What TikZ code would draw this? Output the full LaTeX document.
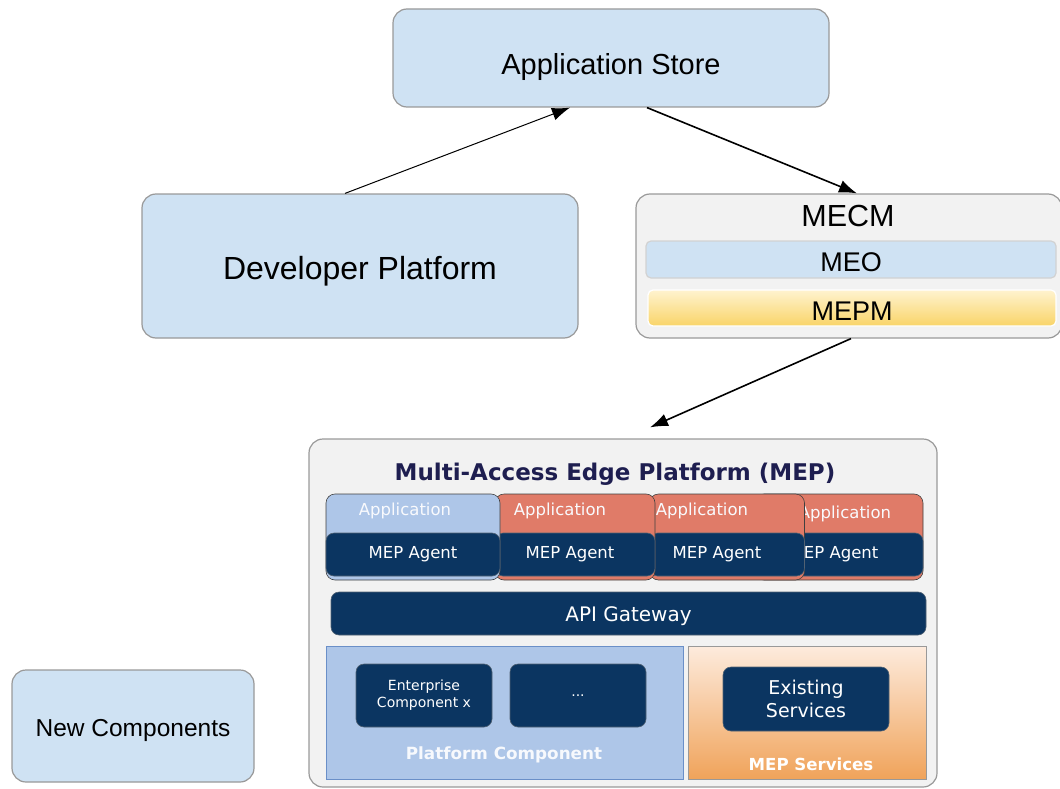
\documentclass[tikz,border=0pt]{standalone}
\usepackage{fontspec}
\setmainfont{Liberation Sans}
\newfontfamily\mepfont{DejaVu Sans}
\usetikzlibrary{arrows.meta,calc}

\definecolor{paleblue}{HTML}{CFE2F3}
\definecolor{edgegray}{HTML}{999999}
\definecolor{panelgray}{HTML}{F2F2F2}
\definecolor{mepnavy}{HTML}{0B3561}
\definecolor{appblue}{HTML}{AEC6E8}
\definecolor{appsalmon}{HTML}{E07B68}
\definecolor{pcedge}{HTML}{6A8FC8}
\definecolor{titlenavy}{HTML}{1E1E50}
\definecolor{mepmtop}{HTML}{FFF3CF}
\definecolor{mepmbottom}{HTML}{F9D468}
\definecolor{svctop}{HTML}{FDEBDD}
\definecolor{svcbottom}{HTML}{F0A35A}

\tikzset{
  bigbox/.style={rectangle, draw=edgegray, line width=1.2pt, rounded corners=14pt, fill=paleblue, text depth=0pt},
  panel/.style={rectangle, draw=edgegray, line width=1.2pt, rounded corners=14pt, fill=panelgray},
  navybox/.style={rectangle, draw=gray!60!mepnavy, line width=0.6pt, fill=mepnavy, rounded corners=8pt, text=white, align=center},
  appbox/.style={rectangle, draw=gray!50!black, line width=0.6pt, rounded corners=9pt, minimum height=86pt},
  applabel/.style={text=white!92!appblue, font=\mepfont\fontsize{16.5}{18}\selectfont},
  agentlabel/.style={text=white, font=\mepfont\fontsize{16.5}{18}\selectfont},
  flow/.style={-{Latex[length=18pt,width=13pt]}},
}

\begin{document}
\begin{tikzpicture}[x=1pt,y=-1pt]
\useasboundingbox (0,0) rectangle (1060,789);

% upper part
\node[bigbox, minimum width=436pt, minimum height=98pt, text height=34pt, font=\fontsize{29}{32}\selectfont] (store) at (611,58) {Application Store};
\node[bigbox, minimum width=436pt, minimum height=144pt, text height=26pt, font=\fontsize{32}{36}\selectfont] (dev) at (360,266) {Developer Platform};
\node[panel, minimum width=426pt, minimum height=144pt] (mecm) at (849,266) {};
\node[font=\fontsize{30.5}{34}\selectfont] (mecmlabel) at (848,216) {MECM};
\node[rectangle, draw=gray!35, line width=1.2pt, rounded corners=5pt, fill=paleblue, minimum width=410pt, minimum height=37pt, text height=24pt, text depth=0pt, font=\fontsize{27}{30}\selectfont] (meo) at (851,259.5) {MEO};
\node[rectangle, draw=white, line width=1.2pt, rounded corners=5pt, top color=mepmtop, bottom color=mepmbottom, minimum width=408pt, minimum height=36pt, text height=25pt, text depth=0pt, font=\fontsize{27}{30}\selectfont] (mepm) at (852,308) {MEPM};

\draw[flow, line width=1pt] ($(dev.north)+(-15,0)$) -- ($(store.south)+(-41,0)$);
\draw[flow, line width=1.6pt] ($(store.south)+(36,0)$) -- ($(mecm.north)+(8,0)$);

% MEP
\node[panel, minimum width=628pt, minimum height=348pt] (mep) at (623,613) {};
\node[text=titlenavy, font=\mepfont\bfseries\fontsize{23}{26}\selectfont] (meptitle) at (615,474) {Multi-Access Edge Platform (MEP)};
\draw[flow, line width=1.6pt] ($(mecm.south)+(2,0)$) -- ($(mep.north)+(27,-11)$);

% applications, back to front
\node[appbox, fill=appsalmon, minimum width=168pt] (app4) at (839,537) {};
\node[applabel] (app4label) at (845,514) {Application};
\node[navybox, minimum width=168pt, minimum height=43pt] (agent4) at (839,554.5) {};
\node[agentlabel] (agent4label) at (834,554) {MEP Agent};
\node[appbox, fill=appsalmon, minimum width=155pt] (app3) at (727,537) {};
\node[applabel] (app3label) at (702,511) {Application};
\node[navybox, minimum width=155pt, minimum height=43pt] (agent3) at (727,554.5) {};
\node[agentlabel] (agent3label) at (717,554) {MEP Agent};
\node[appbox, fill=appsalmon, minimum width=160pt] (app2) at (575,537) {};
\node[applabel] (app2label) at (560,511) {Application};
\node[navybox, minimum width=160pt, minimum height=43pt] (agent2) at (575,554.5) {};
\node[agentlabel] (agent2label) at (570,554) {MEP Agent};
\node[appbox, fill=appblue, minimum width=174pt] (app1) at (413,537) {};
\node[applabel] (app1label) at (405,511) {Application};
\node[navybox, minimum width=174pt, minimum height=43pt] (agent1) at (413,554.5) {};
\node[agentlabel] (agent1label) at (413,554) {MEP Agent};

\node[navybox, minimum width=595pt, minimum height=43pt, text height=16pt, text depth=0pt, font=\mepfont\fontsize{20}{22}\selectfont] (gateway) at (628.5,613.5) {API Gateway};

% platform component
\node[rectangle, draw=pcedge, line width=1pt, fill=appblue, minimum width=357pt, minimum height=133pt] (platform) at (504.5,712.5) {};
\node[text=white!90!appblue, font=\mepfont\bfseries\fontsize{16.8}{19}\selectfont] (platformlabel) at (504,755) {Platform Component};
\node[navybox, minimum width=136pt, minimum height=63pt, font=\mepfont\fontsize{14}{17}\selectfont] (enterprise) at (424,695.5) {Enterprise\\Component x};
\node[navybox, minimum width=136pt, minimum height=63pt, font=\mepfont\fontsize{14}{17}\selectfont] (more) at (578,695.5) {...};

% MEP services
\node[rectangle, draw=edgegray, line width=1pt, top color=svctop, bottom color=svcbottom, minimum width=238pt, minimum height=133pt] (services) at (807,712.5) {};
\node[text=white, font=\mepfont\bfseries\fontsize{16.6}{19}\selectfont] (serviceslabel) at (811,764) {MEP Services};
\node[navybox, minimum width=166pt, minimum height=64pt, font=\mepfont\fontsize{19}{23}\selectfont] (existing) at (806,699) {Existing\\Services};

% legend
\node[bigbox, minimum width=242pt, minimum height=112pt, text height=20pt, font=\fontsize{24.5}{28}\selectfont] (legend) at (133,726) {New Components};
\end{tikzpicture}
\end{document}
